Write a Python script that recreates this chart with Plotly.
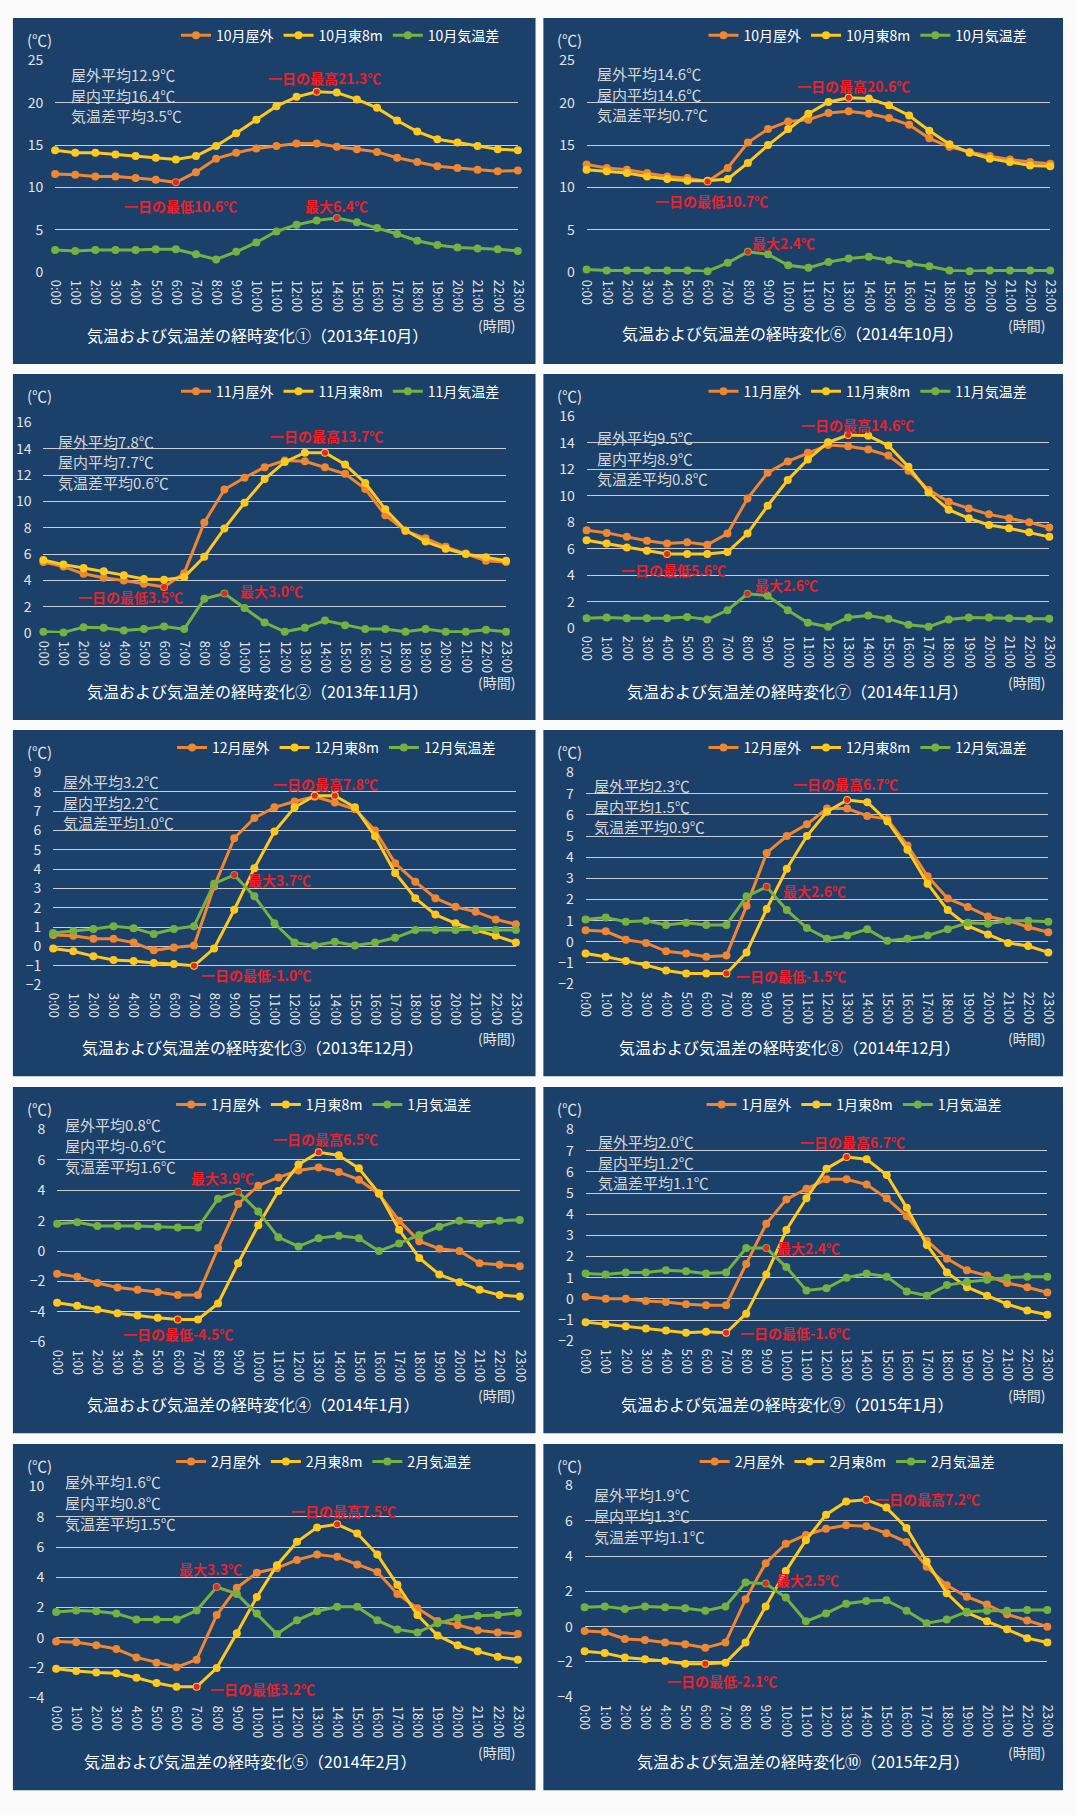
import plotly.graph_objects as go

W, H = 1076, 1815

hour_labels = ["0:00", "1:00", "2:00", "3:00", "4:00", "5:00", "6:00", "7:00",
               "8:00", "9:00", "10:00", "11:00", "12:00", "13:00", "14:00", "15:00",
               "16:00", "17:00", "18:00", "19:00", "20:00", "21:00", "22:00", "23:00"]

# ---------------- data ----------------
out_2013_10 = [11.6, 11.5, 11.3, 11.3, 11.1, 10.9, 10.6, 11.8, 13.4, 14.1, 14.6, 14.9, 15.2, 15.2, 14.8, 14.5, 14.2, 13.5, 13.0, 12.5, 12.3, 12.1, 11.9, 12.0]
in_2013_10 = [14.4, 14.1, 14.1, 13.9, 13.7, 13.5, 13.3, 13.7, 14.9, 16.4, 18.0, 19.6, 20.7, 21.3, 21.2, 20.4, 19.4, 17.9, 16.6, 15.7, 15.3, 14.9, 14.5, 14.4]
diff_2013_10 = [2.6, 2.5, 2.6, 2.6, 2.6, 2.7, 2.7, 2.1, 1.5, 2.4, 3.5, 4.8, 5.6, 6.1, 6.4, 5.9, 5.2, 4.5, 3.7, 3.2, 2.9, 2.8, 2.7, 2.5]

out_2013_11 = [5.4, 5.05, 4.5, 4.2, 4.0, 3.75, 3.5, 4.55, 8.4, 10.9, 11.8, 12.6, 13.1, 13.05, 12.6, 12.1, 10.95, 8.95, 7.75, 7.2, 6.55, 6.05, 5.5, 5.4]
in_2013_11 = [5.55, 5.2, 4.95, 4.7, 4.4, 4.1, 4.05, 4.25, 5.8, 7.95, 9.9, 11.7, 13.0, 13.7, 13.7, 12.8, 11.4, 9.4, 7.8, 6.95, 6.4, 6.0, 5.75, 5.5]
diff_2013_11 = [0.1, 0.05, 0.45, 0.4, 0.2, 0.3, 0.5, 0.3, 2.6, 3.0, 1.9, 0.8, 0.1, 0.4, 0.95, 0.6, 0.3, 0.3, 0.1, 0.3, 0.1, 0.1, 0.25, 0.1]

out_2013_12 = [0.6, 0.55, 0.4, 0.4, 0.2, -0.2, -0.05, 0.05, 3.1, 5.6, 6.65, 7.2, 7.5, 7.75, 7.45, 7.1, 6.0, 4.3, 3.35, 2.5, 2.05, 1.8, 1.4, 1.15]
in_2013_12 = [-0.1, -0.25, -0.5, -0.7, -0.75, -0.85, -0.9, -1.0, -0.1, 1.9, 4.05, 5.95, 7.2, 7.8, 7.8, 7.2, 5.7, 3.8, 2.5, 1.65, 1.2, 0.85, 0.55, 0.2]
diff_2013_12 = [0.7, 0.8, 0.9, 1.05, 0.95, 0.65, 0.9, 1.05, 3.25, 3.7, 2.6, 1.2, 0.2, 0.05, 0.25, 0.05, 0.2, 0.45, 0.85, 0.85, 0.85, 0.9, 0.85, 0.85]

out_2014_01 = [-1.5, -1.7, -2.1, -2.4, -2.55, -2.7, -2.9, -2.9, 0.2, 3.1, 4.3, 4.85, 5.3, 5.5, 5.2, 4.7, 3.75, 2.0, 0.65, 0.15, 0.0, -0.8, -0.9, -1.0]
in_2014_01 = [-3.4, -3.6, -3.85, -4.1, -4.25, -4.4, -4.5, -4.5, -3.45, -0.8, 1.7, 3.95, 5.7, 6.5, 6.3, 5.45, 3.8, 1.4, -0.45, -1.55, -2.05, -2.55, -2.9, -3.0]
diff_2014_01 = [1.8, 1.9, 1.65, 1.65, 1.65, 1.6, 1.55, 1.55, 3.45, 3.9, 2.6, 0.9, 0.3, 0.85, 1.0, 0.85, 0.0, 0.5, 1.05, 1.6, 2.0, 1.8, 2.0, 2.05]

out_2014_02 = [-0.25, -0.3, -0.5, -0.75, -1.3, -1.65, -1.95, -1.45, 1.5, 3.3, 4.3, 4.6, 5.15, 5.5, 5.35, 4.85, 4.35, 2.9, 1.95, 1.1, 0.85, 0.5, 0.35, 0.25]
in_2014_02 = [-2.05, -2.2, -2.3, -2.35, -2.65, -3.0, -3.25, -3.25, -2.0, 0.3, 2.7, 4.8, 6.35, 7.3, 7.5, 6.9, 5.5, 3.5, 1.5, 0.15, -0.5, -0.9, -1.25, -1.45]
diff_2014_02 = [1.7, 1.8, 1.75, 1.6, 1.2, 1.2, 1.2, 1.8, 3.35, 2.9, 1.6, 0.25, 1.15, 1.75, 2.05, 2.05, 1.15, 0.55, 0.35, 0.95, 1.3, 1.45, 1.5, 1.65]

out_2014_10 = [12.7, 12.3, 12.1, 11.7, 11.3, 11.1, 10.7, 12.3, 15.3, 16.9, 17.8, 18.0, 18.8, 19.0, 18.7, 18.2, 17.4, 15.8, 14.8, 14.2, 13.7, 13.3, 13.0, 12.8]
in_2014_10 = [12.1, 11.9, 11.7, 11.3, 11.0, 10.8, 10.8, 11.0, 12.9, 15.0, 16.9, 18.7, 20.1, 20.6, 20.5, 19.7, 18.5, 16.7, 15.1, 14.1, 13.4, 13.0, 12.6, 12.5]
diff_2014_10 = [0.3, 0.2, 0.2, 0.2, 0.2, 0.2, 0.1, 1.1, 2.4, 2.1, 0.8, 0.5, 1.2, 1.6, 1.8, 1.4, 1.0, 0.7, 0.2, 0.1, 0.2, 0.2, 0.2, 0.2]

out_2014_11 = [7.4, 7.2, 6.9, 6.6, 6.4, 6.5, 6.3, 7.15, 9.8, 11.75, 12.6, 13.25, 13.85, 13.75, 13.5, 13.05, 11.9, 10.45, 9.55, 9.05, 8.6, 8.3, 8.0, 7.6]
in_2014_11 = [6.65, 6.4, 6.1, 5.85, 5.6, 5.6, 5.6, 5.75, 7.15, 9.25, 11.2, 12.75, 14.05, 14.6, 14.55, 13.8, 12.2, 10.25, 8.95, 8.3, 7.8, 7.55, 7.25, 6.9]
diff_2014_11 = [0.75, 0.8, 0.75, 0.75, 0.75, 0.85, 0.65, 1.35, 2.6, 2.45, 1.35, 0.4, 0.1, 0.8, 0.95, 0.7, 0.25, 0.1, 0.65, 0.8, 0.8, 0.75, 0.7, 0.7]

out_2014_12 = [0.55, 0.5, 0.1, -0.05, -0.45, -0.55, -0.7, -0.65, 1.7, 4.2, 5.0, 5.55, 6.3, 6.3, 5.95, 5.8, 4.55, 3.1, 2.05, 1.65, 1.2, 1.0, 0.7, 0.45]
in_2014_12 = [-0.55, -0.7, -0.9, -1.1, -1.35, -1.5, -1.5, -1.5, -0.5, 1.55, 3.45, 5.0, 6.15, 6.7, 6.6, 5.7, 4.35, 2.75, 1.5, 0.75, 0.35, -0.05, -0.2, -0.5]
diff_2014_12 = [1.05, 1.15, 0.95, 1.0, 0.8, 0.9, 0.8, 0.8, 2.15, 2.6, 1.5, 0.65, 0.15, 0.3, 0.6, 0.05, 0.15, 0.3, 0.6, 0.9, 0.85, 1.0, 1.0, 0.95]

out_2015_01 = [0.1, 0.0, 0.0, -0.1, -0.15, -0.25, -0.3, -0.3, 1.65, 3.55, 4.7, 5.2, 5.65, 5.65, 5.4, 4.75, 3.9, 2.75, 1.9, 1.35, 1.1, 0.75, 0.55, 0.3]
in_2015_01 = [-1.1, -1.2, -1.3, -1.4, -1.5, -1.6, -1.55, -1.6, -0.7, 1.15, 3.25, 4.75, 6.15, 6.7, 6.6, 5.85, 4.3, 2.55, 1.25, 0.55, 0.15, -0.25, -0.55, -0.75]
diff_2015_01 = [1.2, 1.15, 1.25, 1.25, 1.35, 1.3, 1.2, 1.25, 2.4, 2.4, 1.5, 0.4, 0.5, 1.0, 1.2, 1.05, 0.35, 0.15, 0.65, 0.8, 0.9, 1.0, 1.05, 1.05]

out_2015_02 = [-0.25, -0.3, -0.7, -0.75, -0.9, -1.0, -1.2, -0.9, 1.55, 3.6, 4.7, 5.2, 5.55, 5.75, 5.7, 5.3, 4.8, 3.4, 2.35, 1.7, 1.25, 0.7, 0.35, 0.0]
in_2015_02 = [-1.4, -1.5, -1.75, -1.85, -1.95, -2.1, -2.1, -2.05, -0.9, 1.15, 3.15, 4.9, 6.35, 7.1, 7.2, 6.75, 5.6, 3.7, 1.9, 0.8, 0.3, -0.15, -0.65, -0.9]
diff_2015_02 = [1.1, 1.15, 1.0, 1.15, 1.1, 1.05, 0.9, 1.15, 2.5, 2.45, 1.65, 0.3, 0.75, 1.3, 1.45, 1.5, 0.9, 0.2, 0.4, 0.85, 0.9, 0.9, 0.95, 0.95]

# panel order: left column ①-⑤, right column ⑥-⑩
panel_titles = ["気温および気温差の経時変化①（2013年10月）", "気温および気温差の経時変化②（2013年11月）",
                "気温および気温差の経時変化③（2013年12月）", "気温および気温差の経時変化④（2014年1月）",
                "気温および気温差の経時変化⑤（2014年2月）", "気温および気温差の経時変化⑥（2014年10月）",
                "気温および気温差の経時変化⑦（2014年11月）", "気温および気温差の経時変化⑧（2014年12月）",
                "気温および気温差の経時変化⑨（2015年1月）", "気温および気温差の経時変化⑩（2015年2月）"]
legend_months = ["10月", "11月", "12月", "1月", "2月", "10月", "11月", "12月", "1月", "2月"]
outdoor_series = [out_2013_10, out_2013_11, out_2013_12, out_2014_01, out_2014_02,
                  out_2014_10, out_2014_11, out_2014_12, out_2015_01, out_2015_02]
indoor_series = [in_2013_10, in_2013_11, in_2013_12, in_2014_01, in_2014_02,
                 in_2014_10, in_2014_11, in_2014_12, in_2015_01, in_2015_02]
diff_series = [diff_2013_10, diff_2013_11, diff_2013_12, diff_2014_01, diff_2014_02,
               diff_2014_10, diff_2014_11, diff_2014_12, diff_2015_01, diff_2015_02]
avg_outdoor = ["12.9", "7.8", "3.2", "0.8", "1.6", "14.6", "9.5", "2.3", "2.0", "1.9"]
avg_indoor = ["16.4", "7.7", "2.2", "-0.6", "0.8", "14.6", "8.9", "1.5", "1.2", "1.3"]
avg_diff = ["3.5", "0.6", "1.0", "1.6", "1.5", "0.7", "0.8", "0.9", "1.1", "1.1"]
y_min = [0, 0, -2, -6, -4, 0, 0, -2, -2, -4]
y_max = [25, 16, 9, 8, 10, 25, 16, 8, 8, 8]
y_step = [5, 2, 1, 2, 2, 5, 2, 1, 1, 2]

# highlighted points: (series, hour index, label)
max_marks = [("in", 13, "一日の最高21.3℃"), ("in", 14, "一日の最高13.7℃"), ("in", 13, "一日の最高7.8℃"),
             ("in", 13, "一日の最高6.5℃"), ("in", 14, "一日の最高7.5℃"), ("in", 13, "一日の最高20.6℃"),
             ("in", 13, "一日の最高14.6℃"), ("in", 13, "一日の最高6.7℃"), ("in", 13, "一日の最高6.7℃"),
             ("in", 14, "一日の最高7.2℃")]
min_marks = [("out", 6, "一日の最低10.6℃"), ("out", 6, "一日の最低3.5℃"), ("in", 7, "一日の最低-1.0℃"),
             ("in", 6, "一日の最低-4.5℃"), ("in", 7, "一日の最低3.2℃"), ("out", 6, "一日の最低10.7℃"),
             ("in", 4, "一日の最低5.6℃"), ("in", 7, "一日の最低-1.5℃"), ("in", 7, "一日の最低-1.6℃"),
             ("in", 6, "一日の最低-2.1℃")]
diff_marks = [(14, "最大6.4℃"), (9, "最大3.0℃"), (9, "最大3.7℃"), (9, "最大3.9℃"), (8, "最大3.3℃"),
              (8, "最大2.4℃"), (8, "最大2.6℃"), (9, "最大2.6℃"), (9, "最大2.4℃"), (9, "最大2.5℃")]
extra_max_marks = {2: 14}  # panel ③ has two equal maxima

# ---------------- layout / style ----------------
FONT = "Noto Sans CJK JP"
C_OUT, C_IN, C_DIFF = "#EE8632", "#FFC81E", "#76B043"
C_RED = "#E8232B"
PANEL_BG = "#1B406A"
TXT = "#E4E4E4"
NOCOLOR = "rgba(0,0,0,0)"

panel_tops = [7, 367, 727, 1088, 1449]
panel_lefts = [5, 545]
panel_widths = [532, 529]
panel_h = 350
plot_l = [43, 31, 41, 45, 44, 44, 44, 43, 43, 42]
plot_r = [514, 502, 512, 516, 514, 516, 515, 514, 513, 513]
plot_t = [43, 49, 43, 43, 43, 43, 43, 43, 43, 42]
plot_b = [257, 262, 258, 258, 257, 257, 257, 257, 257, 256]
avg_pos = [(57, 57), (44, 68), (49, 52), (51, 38), (51, 38),
           (53, 56), (53, 64), (50, 56), (54, 55), (49, 51)]
title_pos = [(249, 321), (249, 321), (244, 321), (244, 321), (241, 320),
             (254, 319), (259, 321), (251, 321), (248, 321), (264, 320)]
legend_left = [166, 166, 162, 161, 161, 163, 163, 163, 161, 154]
max_off = [(8, -14), (2, -17), (11, -12), (7, -13), (6, -13), (5, -12), (9, -10), (-2, -16), (6, -15), (61, -1)]
min_off = [(5, 24), (-34, 10), (62, 9), (0, 15), (66, 2), (4, 19), (6, 16), (65, 2), (69, 0), (17, 17)]
dmax_off = [(0, -12), (47, -3), (45, 5), (-16, -14), (-6, -18), (36, -9), (39, -9), (48, 4), (42, 0), (42, -3)]


def px_x(v):
    return v / W


def px_y(v):
    return 1 - v / H


fig = go.Figure()
shapes, annotations = [], []
layout_extra = {}

for i in range(10):
    col, row = i // 5, i % 5
    pl, pt = panel_lefts[col], panel_tops[row]
    pw = panel_widths[col]
    n = i + 1
    xa, ya = ("x" if n == 1 else f"x{n}"), ("y" if n == 1 else f"y{n}")
    lg = "legend" if n == 1 else f"legend{n}"

    shapes.append(dict(type="rect", xref="paper", yref="paper", layer="below",
                       x0=px_x(pl), x1=px_x(pl + pw), y0=px_y(pt + panel_h), y1=px_y(pt),
                       fillcolor=PANEL_BG, line=dict(width=0)))

    series = {"out": outdoor_series[i], "in": indoor_series[i]}
    names = [legend_months[i] + "屋外", legend_months[i] + "東8m", legend_months[i] + "気温差"]
    for vals, nm, c in [(outdoor_series[i], names[0], C_OUT), (indoor_series[i], names[1], C_IN),
                        (diff_series[i], names[2], C_DIFF)]:
        fig.add_trace(go.Scatter(x=hour_labels, y=vals, name=nm, mode="lines+markers",
                                 line=dict(color=c, width=3), marker=dict(color=c, size=8),
                                 cliponaxis=False, xaxis=xa, yaxis=ya, legend=lg))

    # red highlight dots
    sx, sy = [], []
    s, idx, _ = max_marks[i]
    sx.append(hour_labels[idx]); sy.append(series[s][idx])
    if i in extra_max_marks:
        j = extra_max_marks[i]
        sx.append(hour_labels[j]); sy.append(series[s][j])
    s2, idx2, _ = min_marks[i]
    sx.append(hour_labels[idx2]); sy.append(series[s2][idx2])
    d_idx = diff_marks[i][0]
    sx.append(hour_labels[d_idx]); sy.append(diff_series[i][d_idx])
    fig.add_trace(go.Scatter(x=sx, y=sy, mode="markers", showlegend=False, cliponaxis=False,
                             marker=dict(color=C_RED, size=6), xaxis=xa, yaxis=ya, hoverinfo="skip"))

    # red labels
    for (ser, ix, lab), (dx, dy) in [((s, idx, max_marks[i][2]), max_off[i]),
                                     ((s2, idx2, min_marks[i][2]), min_off[i])]:
        annotations.append(dict(x=hour_labels[ix], y=series[ser][ix], xref=xa, yref=ya,
                                text=lab, showarrow=False, xshift=dx, yshift=-dy,
                                font=dict(family=FONT, size=14, color=C_RED, weight="bold")))
    annotations.append(dict(x=hour_labels[d_idx], y=diff_series[i][d_idx], xref=xa, yref=ya,
                            text=diff_marks[i][1], showarrow=False,
                            xshift=dmax_off[i][0], yshift=-dmax_off[i][1],
                            font=dict(family=FONT, size=14, color=C_RED, weight="bold")))

    # axes
    layout_extra["xaxis" if n == 1 else f"xaxis{n}"] = dict(
        domain=[px_x(pl + plot_l[i]), px_x(pl + plot_r[i])], anchor=ya,
        type="category", range=[0, 23], showgrid=False, zeroline=False, showline=False,
        tickangle=90, ticks="outside", ticklen=4, tickcolor=NOCOLOR,
        tickfont=dict(family=FONT, size=13, color=TXT), fixedrange=True)
    layout_extra["yaxis" if n == 1 else f"yaxis{n}"] = dict(
        domain=[px_y(pt + plot_b[i]), px_y(pt + plot_t[i])], anchor=xa,
        range=[y_min[i], y_max[i]], dtick=y_step[i], tick0=y_min[i],
        showgrid=True, gridcolor="#C9CDD3", gridwidth=1, zeroline=False, showline=False,
        ticks="outside", ticklen=8, tickcolor=NOCOLOR,
        tickfont=dict(family=FONT, size=14, color=TXT), fixedrange=True)

    # legend
    layout_extra[lg] = dict(orientation="h", x=px_x(pl + legend_left[i]), y=px_y(pt + 18),
                            xanchor="left", yanchor="middle", bgcolor=NOCOLOR,
                            font=dict(family=FONT, size=14, color="#FFFFFF"),
                            itemwidth=30, tracegroupgap=0)

    # texts
    annotations.append(dict(x=px_x(pl + 27), y=px_y(pt + 22), xref="paper", yref="paper",
                            text="(℃)", showarrow=False, xanchor="center", yanchor="middle",
                            font=dict(family=FONT, size=15, color=TXT)))
    ax_, ay_ = avg_pos[i]
    for k, line in enumerate(["屋外平均" + avg_outdoor[i] + "℃", "屋内平均" + avg_indoor[i] + "℃",
                              "気温差平均" + avg_diff[i] + "℃"]):
        annotations.append(dict(x=px_x(pl + ax_), y=px_y(pt + ay_ + 21 * k), xref="paper", yref="paper",
                                text=line, showarrow=False, xanchor="left", yanchor="middle",
                                font=dict(family=FONT, size=15, color="#D6D6D6")))
    tx, ty = title_pos[i]
    annotations.append(dict(x=px_x(pl + tx), y=px_y(pt + ty), xref="paper", yref="paper",
                            text=panel_titles[i], showarrow=False, xanchor="center", yanchor="middle",
                            font=dict(family=FONT, size=16, color="#FFFFFF")))
    annotations.append(dict(x=px_x(pl + 492), y=px_y(pt + 311), xref="paper", yref="paper",
                            text="(時間)", showarrow=False, xanchor="center", yanchor="middle",
                            font=dict(family=FONT, size=14, color=TXT)))

fig.update_layout(width=W, height=H, margin=dict(l=0, r=0, t=0, b=0),
                  paper_bgcolor="#FBFBFC", plot_bgcolor=NOCOLOR,
                  shapes=shapes, annotations=annotations, **layout_extra)

fig.write_html("out.html")
